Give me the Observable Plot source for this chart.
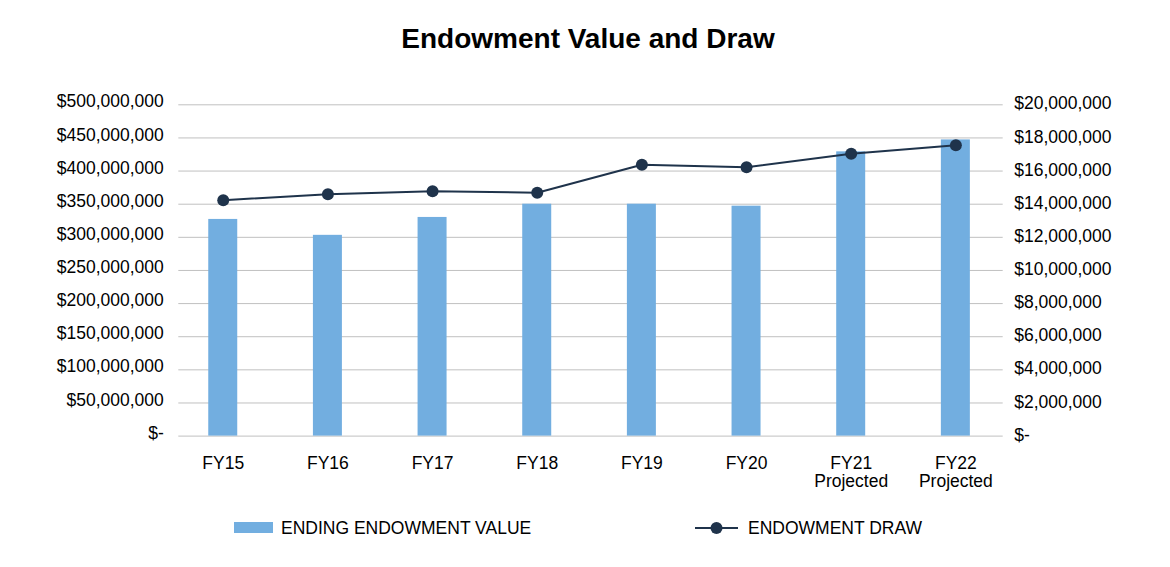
<!DOCTYPE html>
<html>
<head>
<meta charset="utf-8">
<script src="https://cdn.jsdelivr.net/npm/d3@7"></script>
<script src="https://cdn.jsdelivr.net/npm/@observablehq/plot@0.6"></script>
<style>
  html, body { margin: 0; padding: 0; background: #fff; }
  body { width: 1170px; height: 567px; position: relative; overflow: hidden; font-family: "Liberation Sans", Arial, sans-serif; color: #000; }
  #title { position: absolute; left: 3px; top: 25px; width: 1170px; text-align: center; font-size: 28px; line-height: 28px; font-weight: bold; }
  #chart { position: absolute; left: 0; top: 70px; }
  .leg { position: absolute; font-size: 17.5px; line-height: 17px; top: 520px; white-space: nowrap; }
</style>
</head>
<body>
<div id="title">Endowment Value and Draw</div>
<div id="chart"></div>
<div id="legend"></div>
<script>
// ---- data ----
const years = ["FY15", "FY16", "FY17", "FY18", "FY19", "FY20", "FY21", "FY22"];
const yearLabels = ["FY15", "FY16", "FY17", "FY18", "FY19", "FY20", "FY21\nProjected", "FY22\nProjected"];
const endingValue = [327e6, 303e6, 330e6, 350e6, 350e6, 347e6, 429e6, 447e6];
const endowmentDraw = [14.24e6, 14.60e6, 14.78e6, 14.69e6, 16.38e6, 16.23e6, 17.04e6, 17.56e6];
const leftTicks = [0, 50e6, 100e6, 150e6, 200e6, 250e6, 300e6, 350e6, 400e6, 450e6, 500e6];
const seriesNames = ["ENDING ENDOWMENT VALUE", "ENDOWMENT DRAW"];

const barColor = "#72AEE0";
const lineColor = "#1F334B";
const ratio = 500e6 / 20e6; // right axis (draw) to left axis (value)

const data = years.map((y, i) => ({year: y, value: endingValue[i], draw: endowmentDraw[i]}));
const labelOf = new Map(years.map((y, i) => [y, yearLabels[i]]));
const comma = d3.format(",");
const fmtDollar = d => d === 0 ? "$-" : "$" + comma(Math.round(d));

const chart = Plot.plot({
  width: 1170,
  height: 430,
  marginLeft: 178.3,
  marginRight: 167.3,
  marginTop: 34.3,
  marginBottom: 64.4,
  style: {fontFamily: "Liberation Sans, Arial, sans-serif", fontSize: "17.5px", color: "#000", background: "#fff"},
  x: {type: "band", domain: years, paddingInner: 0.723, paddingOuter: 0.30, align: 0.477, round: false},
  y: {domain: [0, 500e6]},
  marks: [
    Plot.gridY(leftTicks, {stroke: "#c0c0c0", strokeOpacity: 1, strokeWidth: 1}),
    Plot.barY(data, {x: "year", y: "value", fill: barColor}),
    Plot.line(data, {x: "year", y: d => d.draw * ratio, stroke: lineColor, strokeWidth: 2}),
    Plot.dot(data, {x: "year", y: d => d.draw * ratio, r: 6, fill: lineColor}),
    Plot.axisY({anchor: "left", ticks: leftTicks, tickFormat: fmtDollar, tickSize: 0, tickPadding: 15, fontSize: 17.5, dy: -3, label: null}),
    Plot.axisY({anchor: "right", ticks: leftTicks, tickFormat: d => fmtDollar(d / ratio), tickSize: 0, tickPadding: 11, textAnchor: "start", fontSize: 17.5, dy: -1, label: null}),
    Plot.axisX({tickSize: 0, tickPadding: 19, fontSize: 17.5, lineHeight: 1.08, tickFormat: d => labelOf.get(d), label: null})
  ]
});
document.getElementById("chart").appendChild(chart);

// ---- legend below the chart ----
const legend = document.getElementById("legend");
legend.innerHTML = `
  <svg style="position:absolute;left:0;top:0" width="1170" height="567">
    <rect x="234" y="522" width="39" height="11" fill="${barColor}"></rect>
    <line x1="695" x2="738" y1="528" y2="528" stroke="${lineColor}" stroke-width="2"></line>
    <circle cx="716.5" cy="528" r="6" fill="${lineColor}"></circle>
  </svg>
  <div class="leg" style="left:281px">${seriesNames[0]}</div>
  <div class="leg" style="left:748px">${seriesNames[1]}</div>`;
</script>
</body>
</html>
